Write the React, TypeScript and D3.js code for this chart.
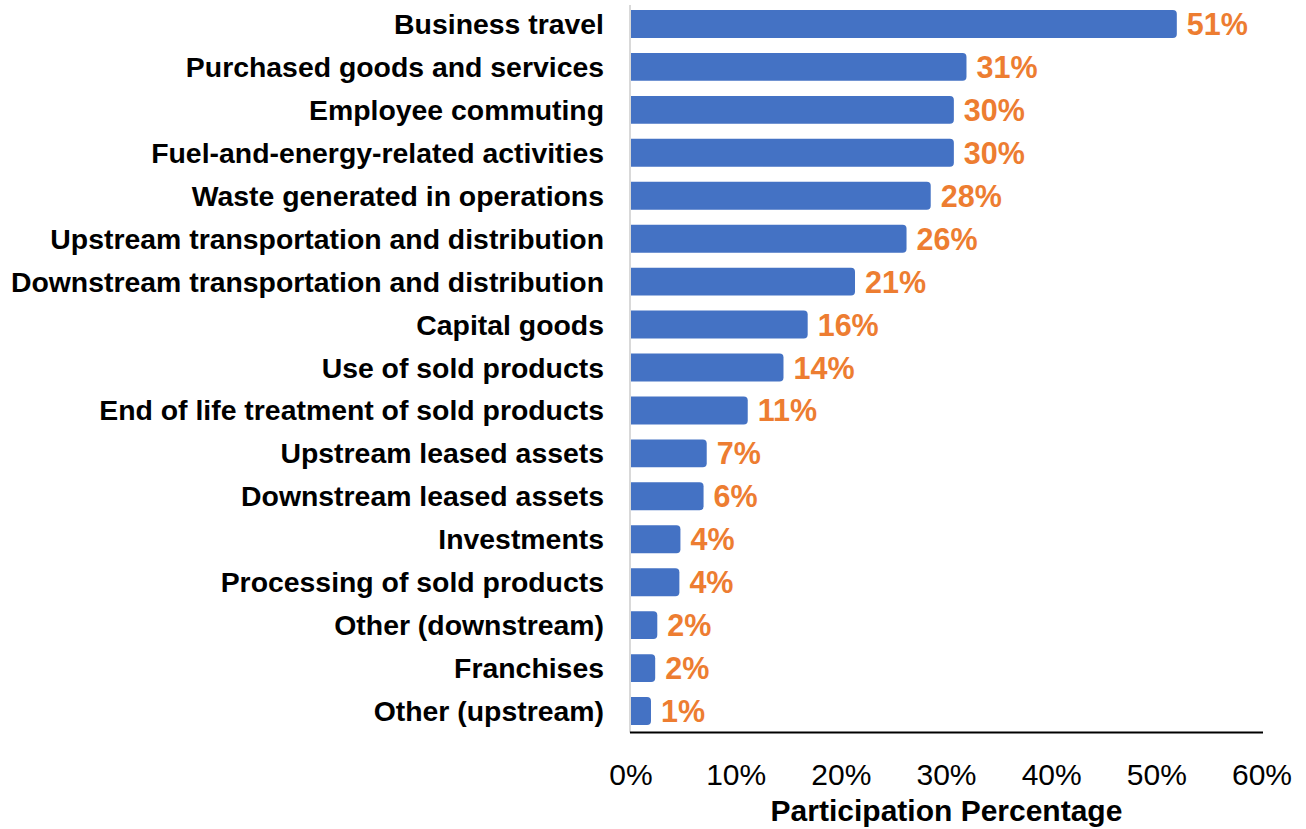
import React from 'react';
import * as d3 from 'd3';

// category names, top to bottom
const categories = [
  'Business travel',
  'Purchased goods and services',
  'Employee commuting',
  'Fuel-and-energy-related activities',
  'Waste generated in operations',
  'Upstream transportation and distribution',
  'Downstream transportation and distribution',
  'Capital goods',
  'Use of sold products',
  'End of life treatment of sold products',
  'Upstream leased assets',
  'Downstream leased assets',
  'Investments',
  'Processing of sold products',
  'Other (downstream)',
  'Franchises',
  'Other (upstream)',
];

// participation, percent
const values = [51.9, 31.9, 30.7, 30.7, 28.5, 26.2, 21.3, 16.8, 14.5, 11.1, 7.2, 6.9, 4.7, 4.6, 2.5, 2.3, 1.9];

const xTicks = [0, 10, 20, 30, 40, 50, 60];
const xTitle = 'Participation Percentage';

const BAR = '#4472C4';
const LABEL = '#ED7D31';
const FONT = '"Liberation Sans", Arial, sans-serif';

export default function App() {
  const width = 1306;
  const height = 829;
  const x0 = 631;
  const x1 = 1262;
  const axisY = 732.5;

  const x = d3.scaleLinear().domain([0, 60]).range([x0, x1]);
  const y = d3.scaleBand<string>()
    .domain(categories)
    .range([2.5, axisY])
    .paddingInner(0.35)
    .paddingOuter(0.175);

  const bw = y.bandwidth();
  const r = 4;

  // bar with square left end and rounded right end
  const barPath = (v: number, top: number) => {
    const xe = x(v);
    const p = d3.path();
    p.moveTo(x0, top);
    p.lineTo(xe - r, top);
    p.arcTo(xe, top, xe, top + r, r);
    p.lineTo(xe, top + bw - r);
    p.arcTo(xe, top + bw, xe - r, top + bw, r);
    p.lineTo(x0, top + bw);
    p.closePath();
    return p.toString();
  };

  return (
    <svg width={width} height={height} style={{ position: 'absolute', left: 0, top: 0 }}>
      <line x1={x0 - 1} x2={x0 - 1} y1={5} y2={axisY} stroke="#d9d9d9" strokeWidth={2} />
      {categories.map((c, i) => {
        const top = y(c)!;
        const cy = top + bw / 2;
        return (
          <g key={c}>
            <path d={barPath(values[i], top)} fill={BAR} />
            <text x={604} y={cy + 10} textAnchor="end" fontFamily={FONT} fontWeight="bold" fontSize={28.4} fill="#000">
              {c}
            </text>
            <text x={x(values[i]) + 10} y={cy + 11} fontFamily={FONT} fontWeight="bold" fontSize={30.5} fill={LABEL}>
              {Math.floor(values[i]) + '%'}
            </text>
          </g>
        );
      })}
      <line x1={x0 - 1} x2={x1 + 1} y1={axisY} y2={axisY} stroke="#000" strokeWidth={2} />
      {xTicks.map((t) => (
        <text key={t} x={x(t)} y={785} textAnchor="middle" fontFamily={FONT} fontSize={30} fill="#000">
          {t + '%'}
        </text>
      ))}
      <text x={(x0 + x1) / 2} y={821} textAnchor="middle" fontFamily={FONT} fontWeight="bold" fontSize={30} fill="#000">
        {xTitle}
      </text>
    </svg>
  );
}
